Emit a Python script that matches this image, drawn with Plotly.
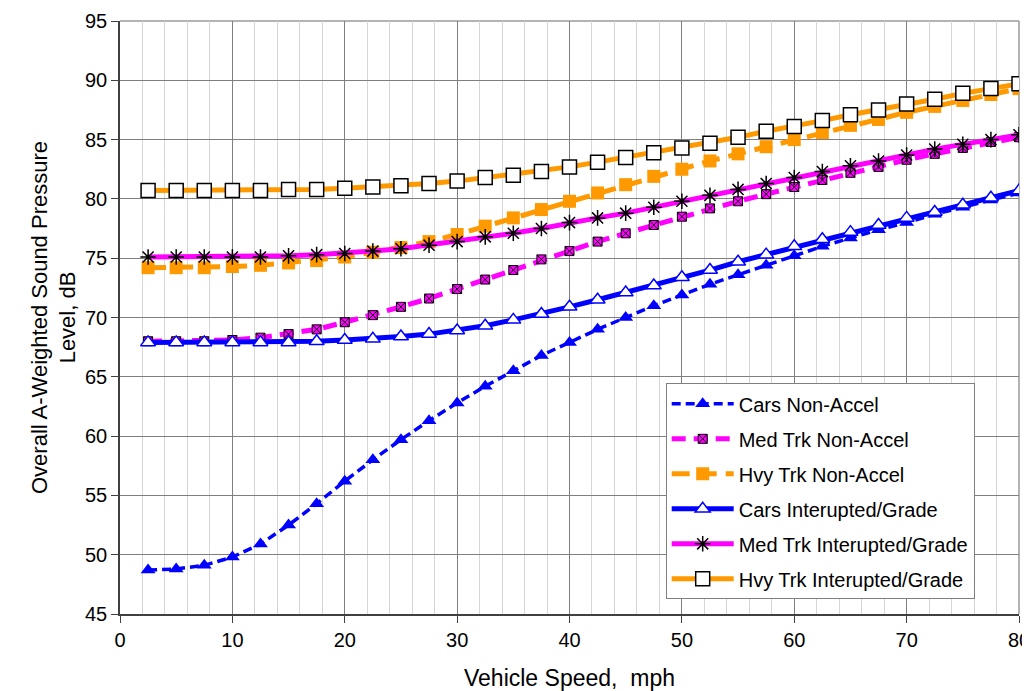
import plotly.graph_objects as go

speed = [2.5, 5, 7.5, 10, 12.5, 15, 17.5, 20, 22.5, 25, 27.5, 30, 32.5, 35, 37.5, 40,
         42.5, 45, 47.5, 50, 52.5, 55, 57.5, 60, 62.5, 65, 67.5, 70, 72.5, 75, 77.5, 80]

cars_nonaccel = [48.7, 48.8, 49.1, 49.8, 50.9, 52.5, 54.3, 56.2, 58.0, 59.7, 61.3, 62.8,
                 64.2, 65.5, 66.8, 67.9, 69.0, 70.0, 71.0, 71.9, 72.8, 73.6, 74.4, 75.2,
                 76.0, 76.7, 77.4, 78.0, 78.7, 79.3, 79.9, 80.5]
medtrk_nonaccel = [68.0, 68.0, 68.0, 68.1, 68.3, 68.6, 69.0, 69.6, 70.2, 70.9, 71.6, 72.4,
                   73.2, 74.0, 74.9, 75.6, 76.4, 77.1, 77.8, 78.5, 79.2, 79.8, 80.4, 81.0,
                   81.6, 82.2, 82.7, 83.3, 83.8, 84.3, 84.8, 85.2]
hvytrk_nonaccel = [74.2, 74.2, 74.2, 74.3, 74.4, 74.6, 74.8, 75.1, 75.5, 75.9, 76.4, 77.0,
                   77.7, 78.4, 79.1, 79.8, 80.5, 81.2, 81.9, 82.5, 83.2, 83.8, 84.4, 85.0,
                   85.6, 86.2, 86.7, 87.3, 87.8, 88.3, 88.8, 89.3]
cars_interrupted = [67.9, 67.9, 67.9, 67.9, 67.9, 67.9, 68.0, 68.1, 68.2, 68.4, 68.6, 68.9,
                    69.3, 69.8, 70.3, 70.9, 71.5, 72.1, 72.7, 73.4, 74.0, 74.7, 75.3, 76.0,
                    76.6, 77.2, 77.8, 78.4, 78.9, 79.5, 80.1, 80.7]
medtrk_interrupted = [75.1, 75.1, 75.1, 75.1, 75.1, 75.2, 75.3, 75.4, 75.6, 75.8, 76.1, 76.4,
                      76.8, 77.1, 77.5, 78.0, 78.4, 78.8, 79.3, 79.8, 80.3, 80.8, 81.3, 81.8,
                      82.3, 82.8, 83.2, 83.7, 84.2, 84.6, 85.0, 85.4]
hvytrk_interrupted = [80.7, 80.7, 80.7, 80.7, 80.7, 80.8, 80.8, 80.9, 81.0, 81.1, 81.3, 81.5,
                      81.8, 82.0, 82.3, 82.7, 83.1, 83.5, 83.9, 84.3, 84.7, 85.2, 85.7, 86.1,
                      86.6, 87.1, 87.5, 88.0, 88.4, 88.9, 89.3, 89.7]

x_ticks = [0, 10, 20, 30, 40, 50, 60, 70, 80]
y_ticks = [45, 50, 55, 60, 65, 70, 75, 80, 85, 90, 95]

BLUE = "#0000FF"
MAG = "#FF00FF"
ORA = "#FF9900"
FONT = "Liberation Sans, Arial, sans-serif"

fig = go.Figure()

def add(name, y, line, marker):
    fig.add_trace(go.Scatter(x=speed, y=y, name=name, legendgroup=name,
                             mode="lines+markers", line=line, marker=marker))

add("Cars Non-Accel", cars_nonaccel,
    dict(color=BLUE, width=3.5, dash="9px,5px"),
    dict(symbol="triangle-up", size=13, color=BLUE, line=dict(width=0)))
add("Med Trk Non-Accel", medtrk_nonaccel,
    dict(color=MAG, width=5, dash="14px,8px"),
    dict(symbol="square-x", size=9, color=MAG, line=dict(width=1, color="#000000")))
add("Hvy Trk Non-Accel", hvytrk_nonaccel,
    dict(color=ORA, width=5, dash="18px,9px"),
    dict(symbol="square", size=13, color=ORA, line=dict(width=0)))
add("Cars Interupted/Grade", cars_interrupted,
    dict(color=BLUE, width=5),
    dict(symbol="triangle-up", size=13, color="#FFFFFF", line=dict(width=1.5, color=BLUE)))
add("Med Trk Interupted/Grade", medtrk_interrupted,
    dict(color=MAG, width=5),
    dict(symbol="asterisk-open", size=13, color="#000000", line=dict(width=1.5, color="#000000")))
add("Hvy Trk Interupted/Grade", hvytrk_interrupted,
    dict(color=ORA, width=5),
    dict(symbol="square", size=14, color="#FFFFFF", line=dict(width=1.5, color="#000000")))

# plot frame top/right
fig.add_shape(type="line", xref="paper", yref="paper", x0=0, x1=1, y0=1, y1=1,
              line=dict(color="#9a9a9a", width=1.5), layer="below")
fig.add_shape(type="line", xref="paper", yref="paper", x0=1, x1=1, y0=0, y1=1,
              line=dict(color="#9a9a9a", width=1.5), layer="below")

# page body has an 8px margin, so the figure is sized/offset to compensate
fig.update_layout(
    width=1022, height=683,
    margin=dict(l=111.5, r=10.5, t=13, b=77, autoexpand=False),
    paper_bgcolor="#FFFFFF", plot_bgcolor="#FFFFFF",
    font=dict(family=FONT, size=20, color="#000000"),
    showlegend=True,
    legend=dict(x=0.607, y=0.389, xanchor="left", yanchor="top",
                bgcolor="#FFFFFF", bordercolor="#808080", borderwidth=1,
                font=dict(family=FONT, size=20, color="#000000"),
                itemwidth=62, tracegroupgap=6),
)

fig.update_xaxes(
    range=[0, 80], tickvals=x_ticks, ticktext=[str(v) for v in x_ticks],
    showgrid=True, gridcolor="#7f7f7f", gridwidth=1,
    minor=dict(dtick=2, showgrid=True, gridcolor="#d6d6d6", gridwidth=1),
    showline=True, linecolor="#404040", linewidth=1.5,
    ticks="outside", ticklen=7, tickcolor="#404040",
    zeroline=False, automargin=False, ticklabeloverflow="allow",
    title=dict(text="Vehicle Speed,  mph", font=dict(size=23), standoff=28),
    tickfont=dict(size=20),
)
fig.update_yaxes(
    range=[45, 95], tickvals=y_ticks, ticktext=[str(v) for v in y_ticks],
    showgrid=True, gridcolor="#7f7f7f", gridwidth=1,
    showline=True, linecolor="#404040", linewidth=1.5,
    ticks="outside", ticklen=7, tickcolor="#404040",
    zeroline=False, automargin=False, ticklabeloverflow="allow",
    title=dict(text="Overall A-Weighted Sound Pressure<br>Level, dB", font=dict(size=22), standoff=3),
    tickfont=dict(size=20),
)

fig.write_html("out.html")
